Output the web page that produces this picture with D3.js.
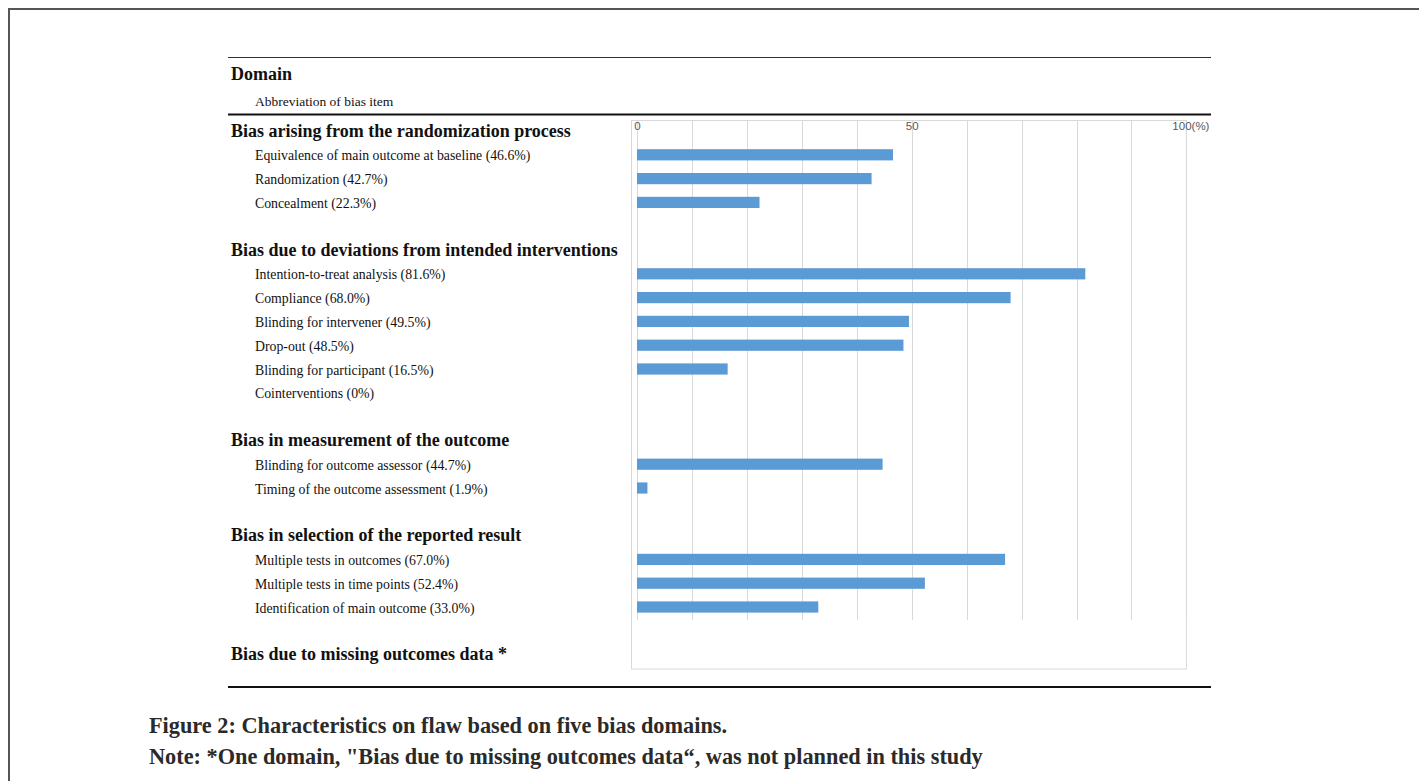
<!DOCTYPE html>
<html>
<head>
<meta charset="utf-8">
<script src="https://cdn.jsdelivr.net/npm/d3@7"></script>
<style>
  html, body { margin: 0; padding: 0; background: #fff; }
  svg { display: block; }
</style>
</head>
<body>
<svg id="fig" width="1419" height="781"></svg>
<script>
// Bias domains (table section headers)
const domains = [
  "Bias arising from the randomization process",
  "Bias due to deviations from intended interventions",
  "Bias in measurement of the outcome",
  "Bias in selection of the reported result",
  "Bias due to missing outcomes data *"
];

// Bias items, the domain each belongs to, and the share of studies with a flaw (%)
const itemNames = [
  "Equivalence of main outcome at baseline",
  "Randomization",
  "Concealment",
  "Intention-to-treat analysis",
  "Compliance",
  "Blinding for intervener",
  "Drop-out",
  "Blinding for participant",
  "Cointerventions",
  "Blinding for outcome assessor",
  "Timing of the outcome assessment",
  "Multiple tests in outcomes",
  "Multiple tests in time points",
  "Identification of main outcome"
];
const itemDomain = [0, 0, 0, 1, 1, 1, 1, 1, 1, 2, 2, 3, 3, 3];
const itemValues = [46.6, 42.7, 22.3, 81.6, 68.0, 49.5, 48.5, 16.5, 0, 44.7, 1.9, 67.0, 52.4, 33.0];

// Axis
const axisTicks = [0, 50, 100];
const gridTicks = [0, 10, 20, 30, 40, 50, 60, 70, 80, 90, 100];

// Caption
const captionTitle = "Figure 2: Characteristics on flaw based on five bias domains.";
const captionNote = "Note: *One domain, \"Bias due to missing outcomes data\u201C, was not planned in this study";

// ---- build the row list: header, items, blank spacer between domains ----
const rows = [];
domains.forEach((d, di) => {
  if (di > 0) rows.push({ key: "gap" + di, type: "gap" });
  rows.push({ key: "h" + di, type: "header", label: d });
  itemNames.forEach((name, i) => {
    if (itemDomain[i] === di) {
      const v = itemValues[i];
      rows.push({
        key: "i" + i,
        type: "item",
        name: name,
        value: v,
        label: name + " (" + (v === 0 ? "0" : v.toFixed(1)) + "%)"
      });
    }
  });
});

const svg = d3.select("#fig");
svg.append("rect").attr("width", 1419).attr("height", 781).attr("fill", "#fff");

// page frame
svg.append("path")
  .attr("d", "M9,781 V9 H1419")
  .attr("fill", "none").attr("stroke", "#555").attr("stroke-width", 2);

// scales
const y = d3.scaleBand()
  .domain(rows.map(r => r.key))
  .range([119.1, 666.5])
  .padding(0);

const x = d3.scaleLinear().domain([0, 100]).range([637, 1186.4]);

const serif = "'Liberation Serif', 'Times New Roman', serif";
const sans = "'Liberation Sans', Arial, sans-serif";

// table rules
svg.append("line").attr("x1", 228).attr("x2", 1211).attr("y1", 57.5).attr("y2", 57.5)
  .attr("stroke", "#333").attr("stroke-width", 1.2);
svg.append("line").attr("x1", 228).attr("x2", 1211).attr("y1", 114.5).attr("y2", 114.5)
  .attr("stroke", "#111").attr("stroke-width", 2.2);
svg.append("line").attr("x1", 228).attr("x2", 1211).attr("y1", 687).attr("y2", 687)
  .attr("stroke", "#111").attr("stroke-width", 2.2);

// table column headings
svg.append("text").attr("x", 231).attr("y", 80)
  .attr("font-family", serif).attr("font-weight", "bold").attr("font-size", 18)
  .attr("fill", "#111").text("Domain");
svg.append("text").attr("x", 255).attr("y", 105.5)
  .attr("font-family", serif).attr("font-size", 13.5)
  .attr("fill", "#111").text("Abbreviation of bias item");

// chart area frame
svg.append("rect")
  .attr("x", 631.5).attr("y", 120.5)
  .attr("width", x(100) - 631.5).attr("height", 669 - 120.5)
  .attr("fill", "none").attr("stroke", "#d9d9d9").attr("stroke-width", 1);

// vertical gridlines
svg.append("g").selectAll("line").data(gridTicks).join("line")
  .attr("x1", d => Math.round(x(d)) + 0.5).attr("x2", d => Math.round(x(d)) + 0.5)
  .attr("y1", 120.5).attr("y2", 620)
  .attr("stroke", "#d9d9d9").attr("stroke-width", 1);

// axis labels along the top of the plot
const axis = d3.axisBottom(x)
  .tickValues(axisTicks)
  .tickSize(0)
  .tickPadding(3)
  .tickFormat(d => d === 100 ? "100(%)" : String(d));
const gAxis = svg.append("g").attr("transform", "translate(0,119)").call(axis);
gAxis.select(".domain").remove();
gAxis.selectAll("text")
  .attr("font-family", sans).attr("font-size", 11.5).attr("fill", "#595959")
  .attr("dx", d => d === 100 ? 4 : 0);

// bars
const barH = 11.2;
svg.append("g").selectAll("rect")
  .data(rows.filter(r => r.type === "item" && r.value > 0))
  .join("rect")
  .attr("x", x(0))
  .attr("y", r => y(r.key) + y.bandwidth() / 2 - barH / 2)
  .attr("width", r => x(r.value) - x(0))
  .attr("height", barH)
  .attr("fill", "#5b9bd5");

// row labels
svg.append("g").selectAll("text")
  .data(rows.filter(r => r.type === "header"))
  .join("text")
  .attr("x", 231)
  .attr("y", r => y(r.key) + y.bandwidth() / 2 + 5.5)
  .attr("font-family", serif).attr("font-weight", "bold").attr("font-size", 18)
  .attr("fill", "#111")
  .text(r => r.label);

svg.append("g").selectAll("text")
  .data(rows.filter(r => r.type === "item"))
  .join("text")
  .attr("x", 255)
  .attr("y", r => y(r.key) + y.bandwidth() / 2 + 5.5)
  .attr("font-family", serif).attr("font-size", 13.8)
  .attr("fill", "#111")
  .text(r => r.label);

// caption
svg.append("text").attr("x", 149).attr("y", 733)
  .attr("font-family", serif).attr("font-weight", "bold").attr("font-size", 22.3)
  .attr("fill", "#2a2a2a").text(captionTitle);
svg.append("text").attr("x", 149).attr("y", 764)
  .attr("font-family", serif).attr("font-weight", "bold").attr("font-size", 22.3)
  .attr("fill", "#2a2a2a").text(captionNote);
</script>
</body>
</html>
